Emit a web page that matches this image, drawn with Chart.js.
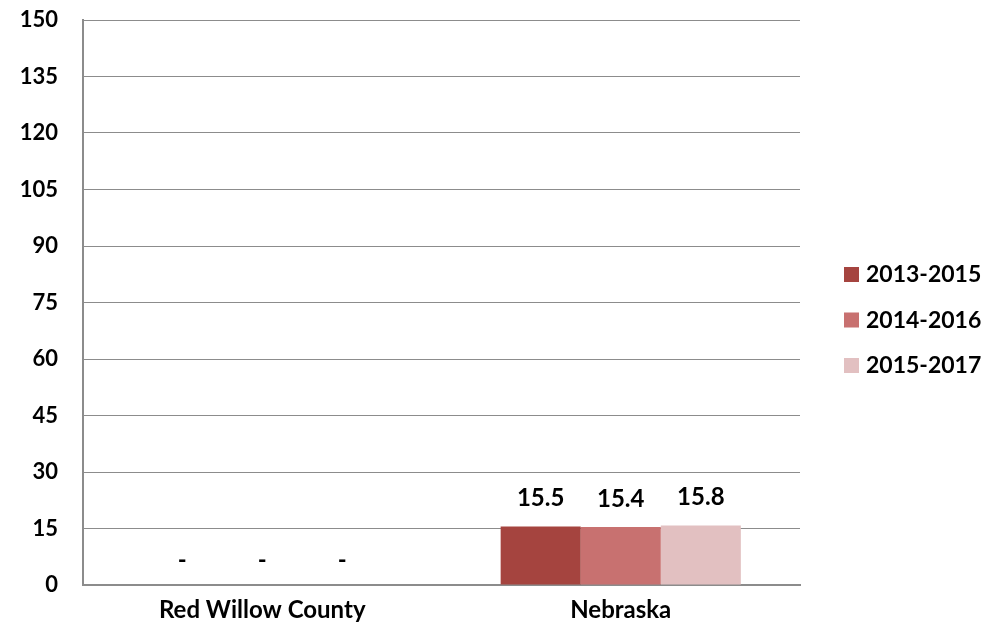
<!DOCTYPE html>
<html>
<head>
<meta charset="utf-8">
<script src="https://cdn.jsdelivr.net/npm/chart.js@4"></script>
<style>
  html, body { margin: 0; padding: 0; background: #fff; }
  #wrap { width: 996px; height: 631px; position: relative; }
</style>
</head>
<body>
<div id="wrap"><canvas id="chart"></canvas></div>
<script>
/* Data */
const categories = ['Red Willow County', 'Nebraska'];
const seriesNames = ['2013-2015', '2014-2016', '2015-2017'];
const series2013 = [null, 15.5];
const series2014 = [null, 15.4];
const series2015 = [null, 15.8];
const yTicks = [0, 15, 30, 45, 60, 75, 90, 105, 120, 135, 150];

const colors = ['#A5443F', '#C87170', '#E2C0C1'];
const FONT = "Lato, 'Open Sans', sans-serif";

/* value labels above bars, '-' where there is no value */
const valueLabels = {
  id: 'valueLabels',
  afterDatasetsDraw(chart) {
    const ctx = chart.ctx;
    const yScale = chart.scales.y;
    ctx.save();
    ctx.font = 'bold 24px ' + FONT;
    ctx.fillStyle = '#000';
    ctx.textAlign = 'center';
    ctx.textBaseline = 'middle';
    chart.data.datasets.forEach((ds, i) => {
      chart.getDatasetMeta(i).data.forEach((bar, j) => {
        const v = ds.data[j];
        const y = v == null ? yScale.getPixelForValue(0) : bar.y;
        ctx.fillText(v == null ? '-' : v.toFixed(1), bar.x, y - (v == null ? 25 : 28));
      });
    });
    ctx.restore();
  }
};

/* legend on the right side */
const sideLegend = {
  id: 'sideLegend',
  afterDraw(chart) {
    const ctx = chart.ctx;
    ctx.save();
    ctx.font = 'bold 23px ' + FONT;
    ctx.textBaseline = 'middle';
    ctx.textAlign = 'left';
    chart.data.datasets.forEach((ds, i) => {
      const y = 274 + i * 45.5;
      ctx.fillStyle = ds.backgroundColor;
      ctx.fillRect(844, y - 7, 15, 15);
      ctx.fillStyle = '#000';
      ctx.fillText(ds.label, 866, y + 1);
    });
    ctx.restore();
  }
};

new Chart(document.getElementById('chart'), {
  type: 'bar',
  data: {
    labels: categories,
    datasets: [
      { label: seriesNames[0], data: series2013, backgroundColor: colors[0] },
      { label: seriesNames[1], data: series2014, backgroundColor: colors[1] },
      { label: seriesNames[2], data: series2015, backgroundColor: colors[2] }
    ]
  },
  options: {
    responsive: true,
    maintainAspectRatio: false,
    animation: false,
    layout: { padding: { top: 20, right: 196, left: 0, bottom: 0 } },
    datasets: { bar: { categoryPercentage: 0.67, barPercentage: 1.0, borderWidth: 0 } },
    plugins: { legend: { display: false }, tooltip: { enabled: false } },
    scales: {
      x: {
        grid: { display: false, drawTicks: false },
        border: { color: '#8c8c8c', width: 2 },
        ticks: { color: '#000', font: { family: FONT, size: 24, weight: 'bold' }, padding: 11 },
        afterFit(s) { s.height = 46; s.paddingLeft = 0; s.paddingRight = 0; }
      },
      y: {
        min: 0, max: 150,
        afterBuildTicks(s) { s.ticks = yTicks.map(v => ({ value: v })); },
        grid: { color: '#8c8c8c', lineWidth: 1, drawTicks: false },
        border: { color: '#8c8c8c', width: 2 },
        ticks: { color: '#000', font: { family: FONT, size: 22, weight: 'bold' }, padding: 25 },
        afterFit(s) { s.width = 83; s.paddingTop = 0; s.paddingBottom = 0; }
      }
    }
  },
  plugins: [valueLabels, sideLegend]
});
</script>
</body>
</html>
